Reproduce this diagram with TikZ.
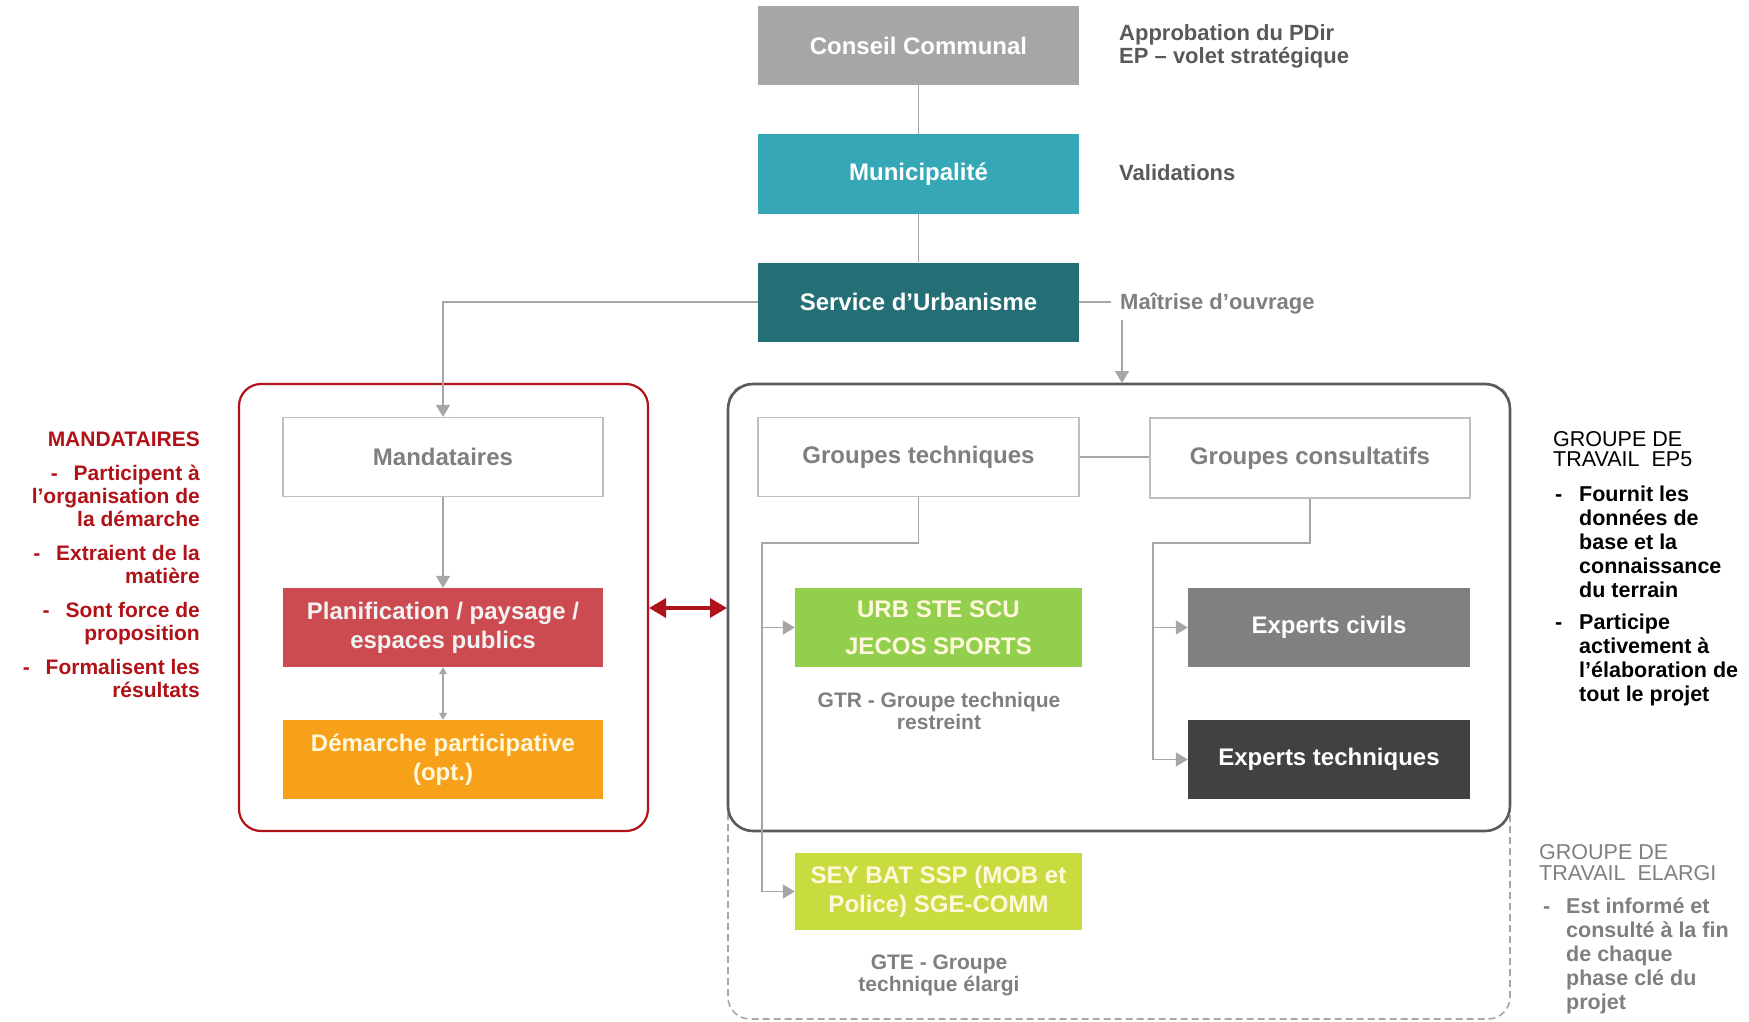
\documentclass[tikz,border=0pt]{standalone}
\usepackage{fontspec}
\setmainfont{Liberation Sans}
\usetikzlibrary{arrows.meta}
\definecolor{ccgray}{HTML}{A6A6A6}
\definecolor{muncol}{HTML}{35A7B6}
\definecolor{sucol}{HTML}{246E75}
\definecolor{plancol}{HTML}{CB4B51}
\definecolor{demcol}{HTML}{F7A11A}
\definecolor{urbcol}{HTML}{92CF4C}
\definecolor{seycol}{HTML}{C8DC40}
\definecolor{eccol}{HTML}{808080}
\definecolor{etcol}{HTML}{414141}
\definecolor{redc}{HTML}{B0121A}
\definecolor{redtxt}{HTML}{B01218}
\definecolor{darktxt}{HTML}{595959}
\definecolor{midtxt}{HTML}{7F7F7F}
\definecolor{linegray}{HTML}{A6A6A6}
\definecolor{boxline}{HTML}{BFBFBF}
\definecolor{framegray}{HTML}{5A5A5A}
\definecolor{paletxt}{HTML}{FFF8DC}
\newcommand{\fl}{\rule{0pt}{17pt}}
\tikzset{
  box/.style={minimum width=321pt, minimum height=79pt, inner sep=0pt, align=center,
    font=\fontsize{24}{29}\selectfont\bfseries, text=white},
  wbox/.style={box, draw=boxline, line width=1.2pt, fill=white, text=midtxt},
  conn/.style={draw=linegray, line width=1.4pt},
  arr/.style={conn, -{Triangle[length=12pt,width=14pt]}, color=linegray},
  sidetxt/.style={inner sep=0pt, font=\fontsize{22}{23.5}\selectfont\bfseries, align=left},
  lefttxt/.style={inner sep=0pt, font=\fontsize{21}{23}\selectfont\bfseries, align=right, text=redtxt},
  eptxt/.style={inner sep=0pt, font=\fontsize{21.5}{24}\selectfont\bfseries, align=left},
  caption/.style={inner sep=0pt, font=\fontsize{21}{22}\selectfont\bfseries, align=center, text=midtxt}
}
\begin{document}
\begin{tikzpicture}[x=1pt,y=-1pt]
\useasboundingbox (0,0) rectangle (1749,1022);
% frames
\draw[dashed, draw=ccgray, line width=1.6pt, dash pattern=on 7pt off 4pt, rounded corners=22pt] (728,384) rectangle (1510,1019);
\draw[draw=framegray, line width=2.6pt, fill=white, rounded corners=25pt] (728,384) rectangle (1510,831);
\draw[draw=redc, line width=2.2pt, fill=white, rounded corners=22pt] (239,384) rectangle (648,831);
\coordinate (redR) at (649,608);
\coordinate (grayL) at (727,608);

% top hierarchy
\node[box, fill=ccgray] (cc) at (918.5,45.5) {Conseil Communal};
\node[box, fill=muncol] (mun) at (918.5,174) {Municipalité};
\node[box, fill=sucol] (su) at (918.5,302) {Service d’Urbanisme};

% left group
\node[wbox, minimum width=320pt] (mand) at (443,457) {Mandataires};
\node[box, minimum width=320pt, fill=plancol, text=white!95!black] (plan) at (443,627.5) {Planification / paysage /\\espaces publics};
\node[box, minimum width=320pt, fill=demcol, text=paletxt] (dem) at (443,759.5) {Démarche participative\\(opt.)};

% right group
\node[wbox] (gt) at (918.5,457) {Groupes techniques};
\node[wbox, minimum width=320pt, minimum height=80pt] (gc) at (1310,458) {Groupes consultatifs};
\node[box, minimum width=287pt, fill=urbcol, text=paletxt, font=\fontsize{24}{37}\selectfont\bfseries] (urb) at (938.5,627.5) {URB STE SCU\\JECOS SPORTS};
\node[box, minimum width=287pt, minimum height=77pt, fill=seycol, text=paletxt] (sey) at (938.5,891.5) {SEY BAT SSP (MOB et\\Police) SGE-COMM};
\node[box, minimum width=282pt, fill=eccol] (ec) at (1329,627.5) {Experts civils};
\node[box, minimum width=282pt, fill=etcol] (et) at (1329,759.5) {Experts techniques};

\node[caption] (gtr) at (939,711) {GTR - Groupe technique\\restreint};
\node[caption] (gte) at (939,975) {GTE - Groupe\\technique élargi};

% side texts
\node[sidetxt, anchor=north west, text=darktxt] (appr) at (1119,23) {\fl Approbation du PDir\\EP – volet stratégique};
\node[sidetxt, anchor=base west, text=darktxt] (valid) at (1119,181) {Validations};
\node[sidetxt, anchor=base west, text=midtxt] (maitr) at (1120,309) {Maîtrise d’ouvrage};
\coordinate (mo1) at (1122,320);
\coordinate (mo2) at (1122,383);

% connectors
\draw[conn] (cc.south) -- (mun.north);
\draw[conn] (mun.south) -- (su.north);
\draw[arr] (su.west) -| (mand.north);
\draw[conn] (su.east) -- ([xshift=-9pt]maitr.west |- su.east);
\draw[arr] (mo1) -- (mo2);
\draw[arr] (mand.south) -- (plan.north);
\draw[draw=linegray, line width=1.2pt, {Triangle[length=7pt,width=8pt]}-{Triangle[length=7pt,width=8pt]}, color=linegray] (plan.south) -- (dem.north);
\draw[draw=redc, line width=3.5pt, {Triangle[length=17pt,width=19pt]}-{Triangle[length=17pt,width=19pt]}, color=redc] (redR) -- (grayL);
\draw[conn] (gt.east) -- (gt.east -| gc.west);
\coordinate (gtj) at (918.5,543);
\coordinate (gtl) at (762,543);
\draw[conn] (gt.south) -- (gtj) -- (gtl) -- (gtl |- sey.west);
\draw[arr] (gtl |- sey.west) -- (sey.west);
\draw[arr] (gtl |- urb.west) -- (urb.west);
\coordinate (gcj) at (1310,543);
\coordinate (gcl) at (1153,543);
\draw[conn] (gc.south) -- (gcj) -- (gcl) -- (gcl |- et.west);
\draw[arr] (gcl |- et.west) -- (et.west);
\draw[arr] (gcl |- ec.west) -- (ec.west);

% left annotations
\node[lefttxt, anchor=base east] (mtitle) at (200,446) {MANDATAIRES};
\node[lefttxt, anchor=north east] (mlist) at (200,463) {\fl-\hspace{16pt}Participent à\\l’organisation de\\la démarche\\[11pt]-\hspace{16pt}Extraient de la\\matière\\[11pt]-\hspace{16pt}Sont force de\\proposition\\[11pt]-\hspace{16pt}Formalisent les\\résultats};

% right annotations EP5
\node[eptxt, anchor=north west, font=\fontsize{21.5}{20}\selectfont, text=black] (eptitle) at (1553,429) {\fl GROUPE DE\\TRAVAIL\ \ EP5};
\node[eptxt, anchor=base west, text=black] (epd1) at (1555,501) {-};
\node[eptxt, anchor=north west, text=black] (ep1) at (1579,484) {\fl Fournit les\\données de\\base et la\\connaissance\\du terrain};
\node[eptxt, anchor=base west, text=black] (epd2) at (1555,629) {-};
\node[eptxt, anchor=north west, text=black] (ep2) at (1579,612) {\fl Participe\\activement à\\l’élaboration de\\tout le projet};

% right annotations ELARGI
\node[eptxt, anchor=north west, font=\fontsize{21.5}{21}\selectfont, text=midtxt] (eltitle) at (1539,842) {\fl GROUPE DE\\TRAVAIL\ \ ELARGI};
\node[eptxt, anchor=base west, text=midtxt] (eld1) at (1543,913) {-};
\node[eptxt, anchor=north west, text=midtxt] (el1) at (1566,896) {\fl Est informé et\\consulté à la fin\\de chaque\\phase clé du\\projet};
\end{tikzpicture}
\end{document}
